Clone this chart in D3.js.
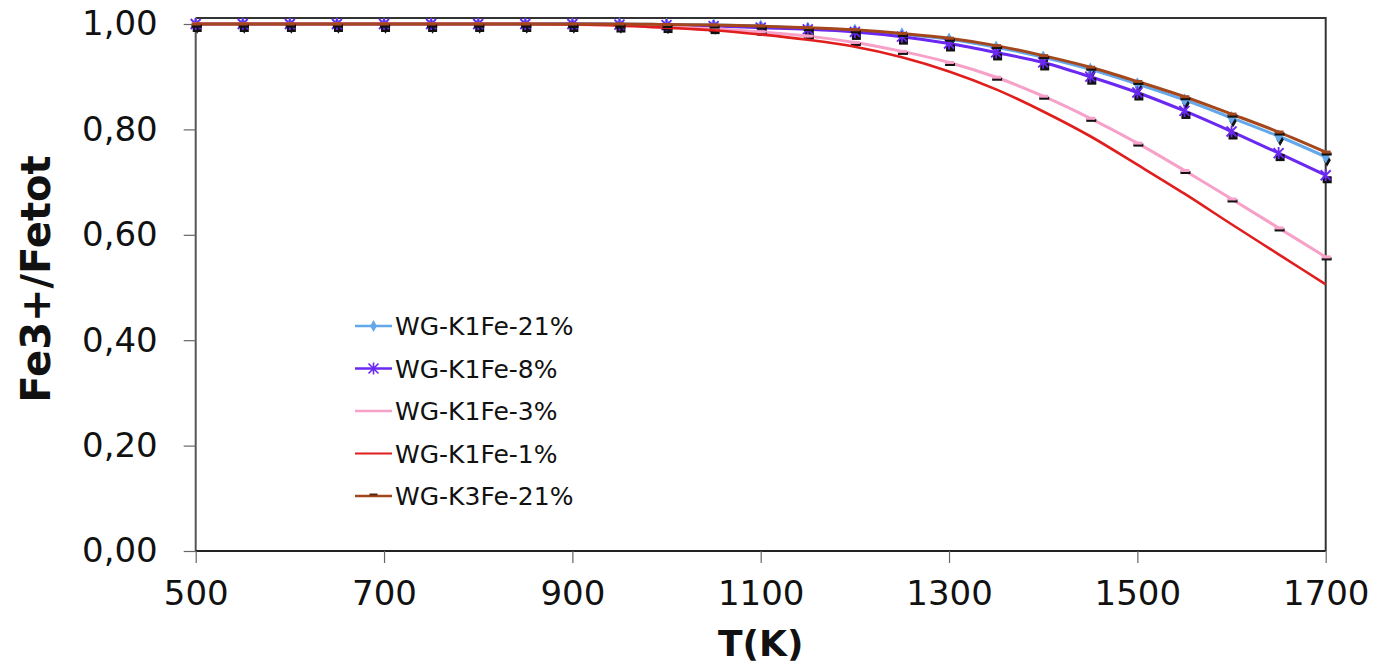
<!DOCTYPE html>
<html>
<head>
<meta charset="utf-8">
<script src="https://cdn.jsdelivr.net/npm/d3@7"></script>
<style>
  html, body { margin: 0; padding: 0; background: #fff; }
  svg { display: block; font-family: "DejaVu Sans", Verdana, sans-serif; }
</style>
</head>
<body>
<svg id="chart" width="1385" height="664"></svg>
<script>
// Temperature grid (K)
const temps = [500, 550, 600, 650, 700, 750, 800, 850, 900, 950, 1000, 1050, 1100,
               1150, 1200, 1250, 1300, 1350, 1400, 1450, 1500, 1550, 1600, 1650, 1700];

// Fe3+/Fetot ratio for each composition / oxygen level
const k1fe21 = [1.000, 1.000, 1.000, 1.000, 1.000, 1.000, 1.000, 1.000, 1.000, 1.000, 0.999, 0.998, 0.996,
                0.992, 0.988, 0.981, 0.971, 0.956, 0.937, 0.914, 0.886, 0.856, 0.822, 0.787, 0.748];
const k1fe8  = [1.000, 1.000, 1.000, 1.000, 1.000, 1.000, 1.000, 1.000, 1.000, 0.999, 0.998, 0.996, 0.993,
                0.990, 0.985, 0.976, 0.963, 0.946, 0.927, 0.900, 0.870, 0.835, 0.796, 0.755, 0.713];
const k1fe3  = [1.000, 1.000, 1.000, 1.000, 1.000, 1.000, 1.000, 1.000, 0.999, 0.998, 0.995, 0.991, 0.985,
                0.977, 0.965, 0.948, 0.927, 0.899, 0.863, 0.821, 0.774, 0.722, 0.668, 0.613, 0.558];
const k1fe1  = [1.000, 1.000, 1.000, 1.000, 1.000, 1.000, 1.000, 1.000, 0.999, 0.997, 0.993, 0.988, 0.980,
                0.970, 0.957, 0.937, 0.910, 0.876, 0.834, 0.787, 0.733, 0.678, 0.620, 0.563, 0.506];
const k3fe21 = [1.000, 1.000, 1.000, 1.000, 1.000, 1.000, 1.000, 1.000, 1.000, 1.000, 0.999, 0.998, 0.996,
                0.993, 0.989, 0.982, 0.973, 0.959, 0.940, 0.918, 0.891, 0.862, 0.829, 0.795, 0.757];

const seriesNames = ["WG-K1Fe-21%", "WG-K1Fe-8%", "WG-K1Fe-3%", "WG-K1Fe-1%", "WG-K3Fe-21%"];

// Axis ticks
const xTicks = [500, 700, 900, 1100, 1300, 1500, 1700];
const yTicks = [0, 0.2, 0.4, 0.6, 0.8, 1.0];

const series = [
  { name: seriesNames[0], values: k1fe21, color: "#62a8ea", width: 3,   marker: "diamond" },
  { name: seriesNames[1], values: k1fe8,  color: "#6a28f2", width: 3,   marker: "star" },
  { name: seriesNames[2], values: k1fe3,  color: "#f7a1c9", width: 3,   marker: "dash" },
  { name: seriesNames[3], values: k1fe1,  color: "#e01e1e", width: 2.6, marker: null },
  { name: seriesNames[4], values: k3fe21, color: "#a4471c", width: 3,   marker: "dash" }
];

const svg = d3.select("#chart");

const plot = { left: 195.7, right: 1325.7, top: 18, bottom: 551 };

const x = d3.scaleLinear().domain([500, 1700]).range([plot.left, plot.right]);
const y = d3.scaleLinear().domain([0, 1]).range([plot.bottom, 24]);

const fmtY = v => d3.format(".2f")(v).replace(".", ",");

// plot area frame (top and right edges)
svg.append("path")
  .attr("d", `M${plot.left},${plot.top}H${plot.right}V${plot.bottom}`)
  .attr("fill", "none")
  .attr("stroke", "#333")
  .attr("stroke-width", 2);

// y axis
const yAxis = svg.append("g")
  .attr("transform", `translate(${plot.left},0)`)
  .call(d3.axisLeft(y).tickValues(yTicks).tickFormat(fmtY).tickSize(12).tickPadding(26));
yAxis.select(".domain").attr("d", `M0,${plot.top}V${plot.bottom}`).attr("stroke", "#555").attr("stroke-width", 2);
yAxis.selectAll(".tick line").attr("stroke", "#666").attr("stroke-width", 1.2);
yAxis.selectAll(".tick text").attr("font-size", 34).attr("fill", "#111")
  .attr("font-family", "DejaVu Sans, Verdana, sans-serif");

// x axis
const xAxis = svg.append("g")
  .attr("transform", `translate(0,${plot.bottom})`)
  .call(d3.axisBottom(x).tickValues(xTicks).tickFormat(d3.format("d")).tickSize(12).tickPadding(18));
xAxis.select(".domain").attr("d", `M${plot.left},0H${plot.right}`).attr("stroke", "#222").attr("stroke-width", 2);
xAxis.selectAll(".tick line").attr("stroke", "#666").attr("stroke-width", 1.2);
xAxis.selectAll(".tick text").attr("font-size", 34).attr("fill", "#111")
  .attr("font-family", "DejaVu Sans, Verdana, sans-serif");

// axis titles
svg.append("text")
  .attr("x", (plot.left + plot.right) / 2)
  .attr("y", 656)
  .attr("text-anchor", "middle")
  .attr("font-size", 36)
  .attr("font-weight", "bold")
  .attr("fill", "#111")
  .text("T(K)");

svg.append("text")
  .attr("transform", `translate(50,279) rotate(-90)`)
  .attr("text-anchor", "middle")
  .attr("font-size", 40)
  .attr("font-weight", "bold")
  .attr("fill", "#111")
  .text("Fe3+/Fetot");

// marker drawing helpers
function drawMarker(g, type, color, cx, cy, shadow) {
  if (type === "diamond") {
    const p = d3.symbol().type(d3.symbolDiamond).size(shadow ? 46 : 52)();
    g.append("path").attr("d", p)
      .attr("transform", `translate(${cx + (shadow ? 1.5 : 0)},${cy + (shadow ? 3.5 : 0)})`)
      .attr("fill", shadow ? "#111" : color);
  } else if (type === "star") {
    if (shadow) {
      g.append("rect").attr("x", cx - 3).attr("y", cy + 1).attr("width", 9).attr("height", 7).attr("fill", "#111");
    } else {
      g.append("path")
        .attr("d", `M${cx - 5},${cy - 5}L${cx + 5},${cy + 5}M${cx - 5},${cy + 5}L${cx + 5},${cy - 5}M${cx},${cy - 6}L${cx},${cy + 6}`)
        .attr("stroke", color).attr("stroke-width", 1.8).attr("fill", "none");
    }
  } else if (type === "dash") {
    if (shadow) {
      g.append("rect").attr("x", cx - 4).attr("y", cy + 0.5).attr("width", 10).attr("height", 3).attr("fill", "#111");
    } else {
      g.append("rect").attr("x", cx - 4).attr("y", cy - 1.5).attr("width", 9).attr("height", 3).attr("fill", color);
    }
  }
}

const line = d3.line()
  .x((d, i) => x(temps[i]))
  .y(d => y(d))
  .curve(d3.curveMonotoneX);

series.forEach(s => {
  const g = svg.append("g");
  g.append("path")
    .attr("d", line(s.values))
    .attr("fill", "none")
    .attr("stroke", s.color)
    .attr("stroke-width", s.width)
    .attr("stroke-linejoin", "round");
  if (s.marker) {
    s.values.forEach((v, i) => drawMarker(g, s.marker, s.color, x(temps[i]), y(v), true));
    s.values.forEach((v, i) => drawMarker(g, s.marker, s.color, x(temps[i]), y(v), false));
  }
});

// legend
const legend = svg.append("g");
const legX0 = 355, legX1 = 392, legY0 = 326, legDY = 42.5;
series.forEach((s, i) => {
  const ly = legY0 + i * legDY;
  legend.append("line")
    .attr("x1", legX0).attr("x2", legX1).attr("y1", ly).attr("y2", ly)
    .attr("stroke", s.color).attr("stroke-width", s.width - 0.5);
  if (s.marker === "diamond") {
    legend.append("path").attr("d", d3.symbol().type(d3.symbolDiamond).size(40)())
      .attr("transform", `translate(${(legX0 + legX1) / 2},${ly})`).attr("fill", s.color);
  } else if (s.marker === "star") {
    const cx = (legX0 + legX1) / 2;
    legend.append("path")
      .attr("d", `M${cx - 5},${ly - 5}L${cx + 5},${ly + 5}M${cx - 5},${ly + 5}L${cx + 5},${ly - 5}M${cx},${ly - 6}L${cx},${ly + 6}`)
      .attr("stroke", s.color).attr("stroke-width", 1.6);
  } else if (s.marker === "dash" && i === 4) {
    legend.append("rect").attr("x", (legX0 + legX1) / 2 - 4).attr("y", ly - 2.5)
      .attr("width", 8).attr("height", 2).attr("fill", "#5a2a10");
  }
  legend.append("text")
    .attr("x", legX1 + 3)
    .attr("y", ly)
    .attr("dy", "0.36em")
    .attr("font-size", 25)
    .attr("fill", "#111")
    .text(s.name);
});
</script>
</body>
</html>
